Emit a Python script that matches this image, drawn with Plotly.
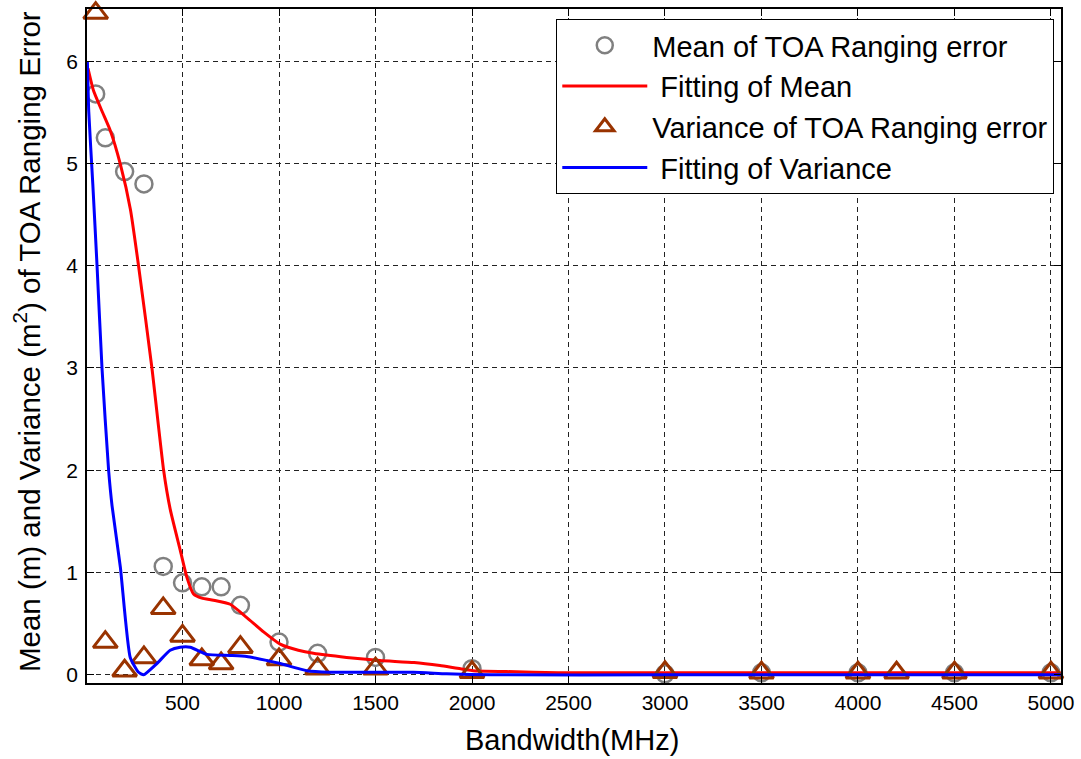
import plotly.graph_objects as go

# ---- data ----
mean_x = [50, 100, 200, 300, 400, 500, 600, 700, 800, 1000, 1200, 1500, 2000, 3000, 3500, 4000, 4500, 5000]
mean_y = [5.68, 5.25, 4.92, 4.80, 1.06, 0.90, 0.86, 0.86, 0.68, 0.32, 0.21, 0.17, 0.06, 0.01, 0.02, 0.02, 0.02, 0.02]

var_x = [50, 100, 200, 300, 400, 500, 600, 700, 800, 1000, 1200, 1500, 2000, 3000, 3500, 4000, 4200, 4500, 5000]
var_y = [6.47, 0.32, 0.04, 0.17, 0.65, 0.38, 0.15, 0.11, 0.27, 0.15, 0.06, 0.06, 0.025, 0.025, 0.02, 0.02, 0.02, 0.02, 0.02]

fit_mean_x = [10, 39, 83, 126, 178, 230, 272, 342, 402, 436, 488, 523, 557, 600, 660, 747, 833, 920,
              1006, 1100, 1178, 1350, 1523, 1700, 1834, 2006, 2179, 2446, 3000, 4000, 5050]
fit_mean_y = [5.93, 5.71, 5.51, 5.32, 4.99, 4.55, 4.00, 2.99, 2.00, 1.62, 1.22, 0.95, 0.79, 0.75, 0.73, 0.69,
              0.56, 0.42, 0.30, 0.24, 0.21, 0.17, 0.14, 0.12, 0.09, 0.04, 0.032, 0.02, 0.02, 0.02, 0.02]

fit_var_x = [7, 14, 35, 57, 83, 117, 135, 178, 229, 272, 298, 367, 436, 488, 540, 626, 747, 833, 937,
             1006, 1144, 1264, 1696, 1868, 2100, 3000, 4000, 5050]
fit_var_y = [6.00, 5.51, 4.80, 4.00, 2.99, 2.00, 1.65, 1.05, 0.17, 0.025, 0.0, 0.11, 0.24, 0.27, 0.27, 0.20,
             0.19, 0.18, 0.14, 0.11, 0.04, 0.025, 0.025, 0.01, 0.0, 0.0, 0.0, 0.0]

x_ticks = [500, 1000, 1500, 2000, 2500, 3000, 3500, 4000, 4500, 5000]
y_ticks = [0, 1, 2, 3, 4, 5, 6]

FONT = "Arial, Liberation Sans, sans-serif"
GRAY = "rgb(128,128,128)"
BROWN = "rgb(153,51,0)"

fig = go.Figure()
fig.add_trace(go.Scatter(
    x=mean_x, y=mean_y, mode="markers", name="Mean of TOA Ranging error",
    marker=dict(symbol="circle-open", size=17, color=GRAY, line=dict(width=2.5, color=GRAY)),
    cliponaxis=False))
fig.add_trace(go.Scatter(
    x=fit_mean_x, y=fit_mean_y, mode="lines", name=" Fitting of Mean",
    line=dict(color="red", width=3, shape="spline", smoothing=0.5)))
fig.add_trace(go.Scatter(
    x=var_x, y=var_y, mode="markers", name="Variance of TOA Ranging error",
    marker=dict(symbol="triangle-up-open", size=21, color=BROWN, line=dict(width=3, color=BROWN)),
    cliponaxis=False))
fig.add_trace(go.Scatter(
    x=fit_var_x, y=fit_var_y, mode="lines", name=" Fitting of Variance",
    line=dict(color="blue", width=3, shape="spline", smoothing=0.5)))

axis_common = dict(
    showline=True, linecolor="black", linewidth=1.5, mirror="ticks",
    ticks="inside", ticklen=7, tickwidth=1, tickcolor="black",
    showgrid=True, gridcolor="#222222", gridwidth=1, griddash="5px,4px",
    zeroline=False, tickfont=dict(family=FONT, size=21, color="black"),
)

fig.update_layout(
    width=1081, height=759,
    margin=dict(l=87, r=19, t=7, b=76),
    paper_bgcolor="white", plot_bgcolor="white",
    font=dict(family=FONT, color="black"),
    xaxis=dict(range=[5, 5052], tickvals=x_ticks, ticklabelstandoff=0, **axis_common),
    yaxis=dict(range=[-0.08, 6.51], tickvals=y_ticks, ticklabelstandoff=3, **axis_common),
    legend=dict(
        x=0.9931, y=0.9852, xanchor="right", yanchor="top",
        bgcolor="white", bordercolor="black", borderwidth=1,
        font=dict(family=FONT, size=29, color="black"),
        itemwidth=85, tracegroupgap=0,
    ),
    showlegend=True,
    annotations=[
        dict(text="Bandwidth(MHz)", xref="paper", yref="paper", x=0.498, y=-0.0843,
             xanchor="center", yanchor="middle", showarrow=False,
             font=dict(family=FONT, size=29, color="black")),
        dict(text="Mean (m) and Variance (m<sup>2</sup>) of TOA Ranging Error", xref="paper", yref="paper",
             x=-0.0615, y=0.506, xanchor="center", yanchor="middle", textangle=-90, showarrow=False,
             font=dict(family=FONT, size=29.5, color="black")),
    ],
)

fig.write_html("out.html", config={"displayModeBar": False},
               post_script="document.body.style.margin='0';document.body.style.padding='0';")
